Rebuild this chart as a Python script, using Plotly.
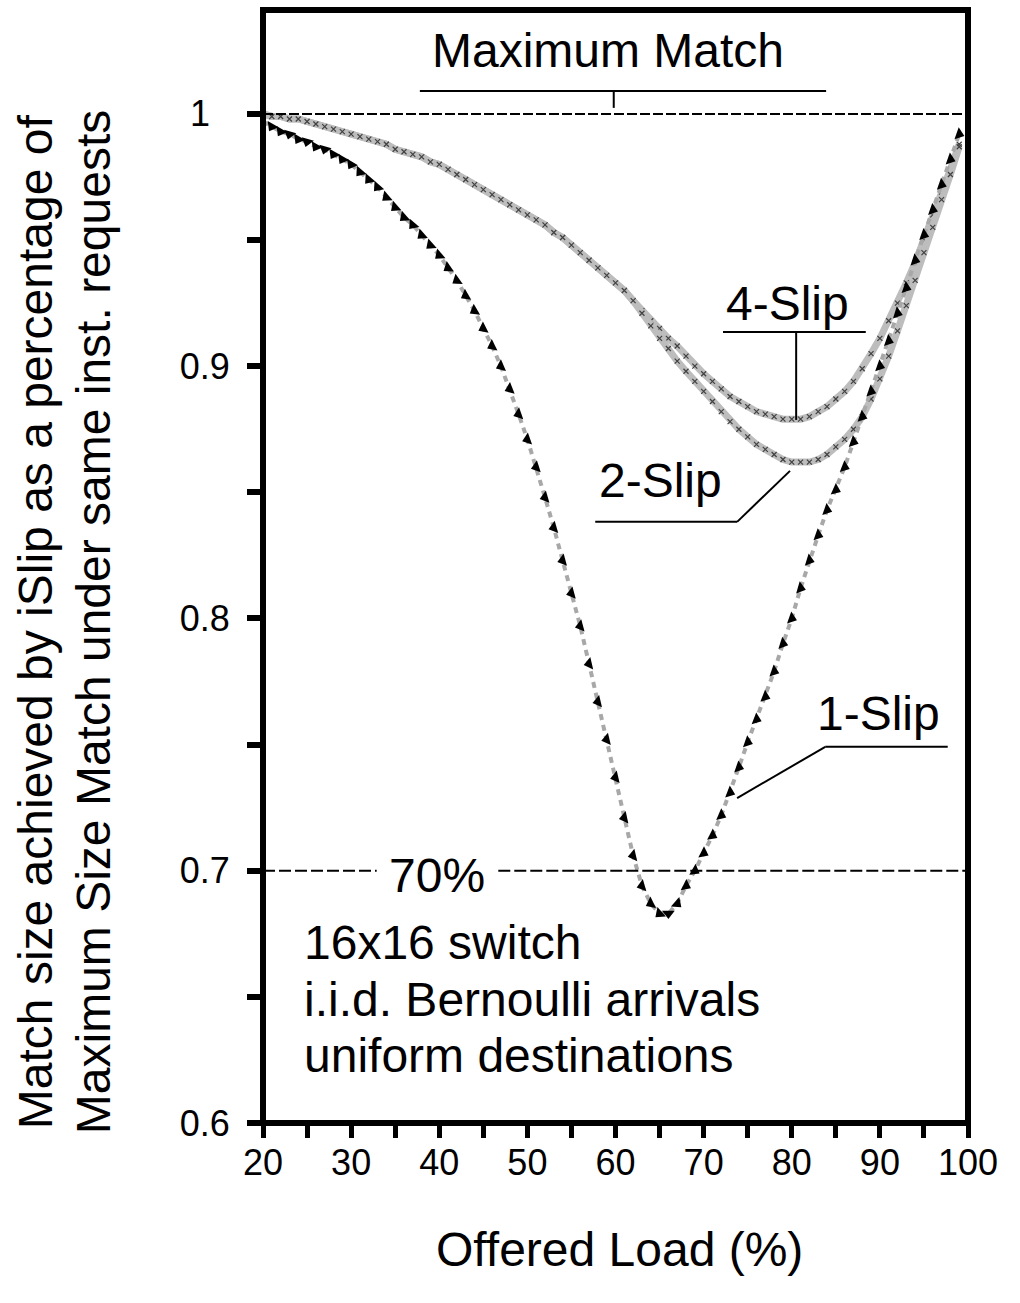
import plotly.graph_objects as go

# Offered load (%) at which each scheduler was simulated
load = list(range(20, 100))

# Match size of iSlip relative to maximum size match, 16x16 switch
slip_1 = [
    0.997, 0.995, 0.993, 0.992, 0.990, 0.989, 0.987, 0.986, 0.984, 0.982,
    0.980, 0.977, 0.974, 0.971, 0.967, 0.963, 0.959, 0.956, 0.952, 0.948,
    0.944, 0.939, 0.934, 0.928, 0.922, 0.915, 0.908, 0.900, 0.891, 0.881,
    0.871, 0.860, 0.848, 0.836, 0.823, 0.810, 0.797, 0.782, 0.767, 0.752,
    0.737, 0.721, 0.706, 0.694, 0.687, 0.683, 0.683, 0.687, 0.694, 0.700,
    0.707, 0.714, 0.722, 0.731, 0.741, 0.751, 0.760, 0.769, 0.779, 0.790,
    0.800, 0.812, 0.823, 0.833, 0.843, 0.851, 0.860, 0.870, 0.880, 0.890,
    0.900, 0.910, 0.921, 0.931, 0.942, 0.952, 0.962, 0.972, 0.982, 0.992,
]
slip_2 = [
    1.000, 0.999, 0.999, 0.998, 0.998, 0.997, 0.996, 0.995, 0.994, 0.993,
    0.992, 0.991, 0.990, 0.989, 0.988, 0.986, 0.985, 0.984, 0.983, 0.981,
    0.980, 0.978, 0.976, 0.974, 0.972, 0.970, 0.968, 0.966, 0.964, 0.962,
    0.960, 0.958, 0.956, 0.953, 0.951, 0.948, 0.945, 0.942, 0.939, 0.936,
    0.933, 0.930, 0.926, 0.921, 0.916, 0.911, 0.907, 0.902, 0.898, 0.894,
    0.890, 0.886, 0.882, 0.878, 0.875, 0.872, 0.869, 0.867, 0.865, 0.863,
    0.862, 0.862, 0.862, 0.863, 0.865, 0.868, 0.871, 0.875, 0.880, 0.887,
    0.895, 0.904, 0.914, 0.924, 0.934, 0.945, 0.955, 0.966, 0.976, 0.987,
]
slip_4 = [
    1.000, 0.999, 0.999, 0.998, 0.998, 0.997, 0.996, 0.995, 0.994, 0.993,
    0.992, 0.991, 0.990, 0.989, 0.988, 0.986, 0.985, 0.984, 0.983, 0.981,
    0.980, 0.978, 0.976, 0.974, 0.972, 0.970, 0.968, 0.966, 0.964, 0.962,
    0.960, 0.958, 0.956, 0.953, 0.951, 0.948, 0.945, 0.942, 0.939, 0.936,
    0.933, 0.930, 0.926, 0.922, 0.918, 0.915, 0.911, 0.908, 0.904, 0.900,
    0.897, 0.894, 0.891, 0.888, 0.886, 0.884, 0.882, 0.881, 0.880, 0.879,
    0.879, 0.879, 0.880, 0.882, 0.884, 0.887, 0.890, 0.894, 0.899, 0.905,
    0.911, 0.918, 0.925, 0.933, 0.941, 0.950, 0.960, 0.969, 0.978, 0.988,
]

x_ticks = [20, 30, 40, 50, 60, 70, 80, 90, 100]
x_minor = [25, 35, 45, 55, 65, 75, 85, 95]
y_ticks = [0.6, 0.7, 0.8, 0.9, 1.0]
y_tick_text = ["0.6", "0.7", "0.8", "0.9", ""]
y_minor = [0.65, 0.75, 0.85, 0.95]

FONT = "Liberation Sans, Arial, Helvetica, sans-serif"
BIG = 48
TICK = 36

fig = go.Figure()

# 4-Slip and 2-Slip: grey chain of points
for ys in (slip_4, slip_2):
    fig.add_trace(go.Scatter(
        x=load, y=ys, mode="lines+markers",
        line=dict(color="#bdbdbd", width=7),
        marker=dict(symbol="x-thin-open", size=5, color="#404040",
                    line=dict(width=1.2, color="#404040")),
        hoverinfo="skip",
    ))

# 1-Slip: grey dashed trail with black triangles
fig.add_trace(go.Scatter(
    x=load, y=slip_1, mode="lines+markers",
    line=dict(color="#a8a8a8", width=4, dash="6px,5px"),
    marker=dict(symbol="triangle-right", size=11, color="black",
                angleref="previous"),
    hoverinfo="skip",
))

shapes = []
# plot frame
shapes.append(dict(type="rect", xref="paper", yref="paper", x0=0, x1=1, y0=0, y1=1,
                   line=dict(color="black", width=6), layer="above"))
# maximum match reference (100%)
shapes.append(dict(type="line", xref="x", yref="y", x0=20, x1=100, y0=1.0, y1=1.0,
                   line=dict(color="black", width=2, dash="10px,3px")))
# 70% reference, broken around its label
for x0, x1 in ((20, 32.9), (46.7, 100)):
    shapes.append(dict(type="line", xref="x", yref="y", x0=x0, x1=x1, y0=0.7, y1=0.7,
                       line=dict(color="black", width=2, dash="12px,4px")))

def seg(x0, y0, x1, y1):
    return dict(type="line", xref="x", yref="y", x0=x0, y0=y0, x1=x1, y1=y1,
                line=dict(color="black", width=2))

# leaders
shapes += [
    seg(37.8, 1.0091, 83.9, 1.0091), seg(59.8, 1.0091, 59.8, 1.0024),
    seg(72.2, 0.9136, 88.4, 0.9136), seg(80.5, 0.9136, 80.5, 0.8787),
    seg(57.7, 0.8383, 73.8, 0.8383), seg(73.8, 0.8383, 79.8, 0.8585),
    seg(83.8, 0.7491, 97.7, 0.7491), seg(83.8, 0.7491, 73.8, 0.7288),
]

ann = []
def txt(x, y, s, anchor="center", size=BIG, **kw):
    d = dict(x=x, y=y, xref="x", yref="y", text=s, showarrow=False,
             xanchor=anchor, yanchor="middle",
             font=dict(family=FONT, size=size, color="black"))
    d.update(kw)
    ann.append(d)

txt(59.1, 1.025, "Maximum Match")
txt(79.5, 0.925, "4-Slip")
txt(65.05, 0.8545, "2-Slip")
txt(89.9, 0.7625, "1-Slip")
txt(39.7, 0.698, "70%")
txt(24.4, 0.6714, "16x16 switch", anchor="left")
txt(24.4, 0.6488, "i.i.d. Bernoulli arrivals", anchor="left")
txt(24.4, 0.6266, "uniform destinations", anchor="left")

# top tick label sits left, in line with the other labels' first digit
ann.append(dict(x=-0.072, y=1.0, xref="paper", yref="y", text="1", showarrow=False,
                xanchor="right", yanchor="middle",
                font=dict(family=FONT, size=TICK, color="black")))

# axis titles
ann.append(dict(x=0.506, y=-0.114, xref="paper", yref="paper", text="Offered Load (%)",
                showarrow=False, xanchor="center", yanchor="middle",
                font=dict(family=FONT, size=BIG, color="black")))
for px, s in ((35, "Match size achieved by iSlip as a percentage of"),
              (93, "Maximum Size Match under same inst. requests")):
    ann.append(dict(x=(px - 263) / 705, y=0.45, xref="paper", yref="paper", text=s,
                    showarrow=False, textangle=-90, xanchor="center", yanchor="middle",
                    font=dict(family=FONT, size=BIG, color="black")))

fig.update_layout(
    width=1020, height=1303,
    margin=dict(l=263, r=52, t=10, b=180),
    plot_bgcolor="white", paper_bgcolor="white",
    showlegend=False,
    font=dict(family=FONT, color="black"),
    shapes=shapes, annotations=ann,
)
fig.update_xaxes(
    range=[20, 100], showgrid=False, zeroline=False, showline=False,
    tickvals=x_ticks, ticks="outside", ticklen=14, tickwidth=5, tickcolor="black",
    tickfont=dict(family=FONT, size=TICK, color="black"), ticklabelstandoff=-6,
    minor=dict(tickvals=x_minor, ticks="outside",
               ticklen=14, tickwidth=5, tickcolor="black"),
)
fig.update_yaxes(
    range=[0.6, 1.0412], showgrid=False, zeroline=False, showline=False,
    tickvals=y_ticks, ticktext=y_tick_text, ticks="outside", ticklen=15, tickwidth=6,
    tickcolor="black", tickfont=dict(family=FONT, size=TICK, color="black"),
    ticklabelstandoff=10,
    minor=dict(tickvals=y_minor, ticks="outside", ticklen=15, tickwidth=6,
               tickcolor="black"),
)

fig.write_html("out.html")
